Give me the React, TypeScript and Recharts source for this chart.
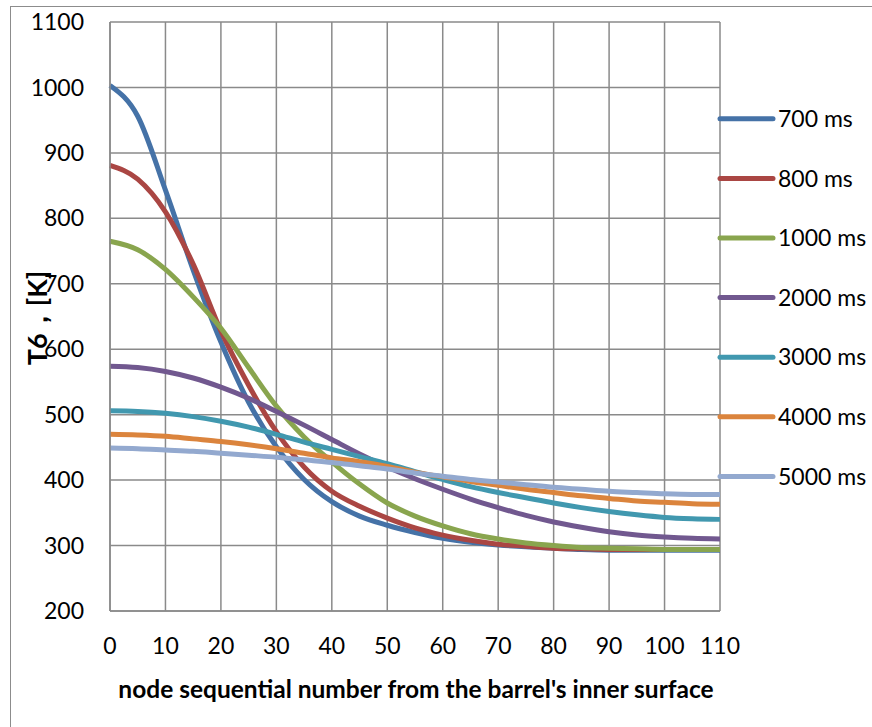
import React from 'react'
import {
  LineChart,
  Line,
  XAxis,
  YAxis,
  CartesianGrid,
  Label,
} from 'recharts'

// node index along the radius
const nodes = [0, 5, 10, 15, 20, 25, 30, 35, 40, 45, 50, 55, 60, 65, 70, 75, 80, 85, 90, 95, 100, 105, 110]

// temperature T6 [K]
const t700 = [1003, 956, 843, 721, 611, 519, 451, 401, 367, 345, 331, 320, 311, 305, 301, 298, 296, 294, 293, 293, 293, 293, 293]
const t800 = [881, 860, 810, 730, 628, 545, 474, 420, 383, 360, 342, 327, 316, 308, 302, 299, 296, 295, 294, 294, 294, 294, 294]
const t1000 = [765, 752, 722, 680, 632, 572, 513, 466, 428, 394, 365, 345, 330, 318, 310, 304, 300, 297, 296, 295, 294, 294, 294]
const t2000 = [574, 572, 566, 556, 542, 525, 505, 484, 462, 440, 420, 402, 386, 371, 358, 346, 336, 328, 321, 316, 313, 311, 310]
const t3000 = [506, 505, 502, 497, 490, 481, 470, 458, 447, 436, 425, 413, 401, 390, 381, 373, 365, 358, 352, 347, 343, 341, 340]
const t4000 = [470, 469, 467, 463, 459, 454, 448, 441, 434, 428, 421, 412, 405, 398, 392, 386, 381, 376, 372, 368, 366, 364, 363]
const t5000 = [449, 448, 446, 444, 441, 438, 435, 431, 427, 422, 417, 411, 406, 401, 397, 393, 389, 386, 383, 381, 379, 378, 378]

const xTicks = [0, 10, 20, 30, 40, 50, 60, 70, 80, 90, 100, 110]
const yTicks = [200, 300, 400, 500, 600, 700, 800, 900, 1000, 1100]

const series = [
  { key: 't700', name: '700 ms', color: '#4572A7', values: t700 },
  { key: 't800', name: '800 ms', color: '#AA4643', values: t800 },
  { key: 't1000', name: '1000 ms', color: '#89A54E', values: t1000 },
  { key: 't2000', name: '2000 ms', color: '#71588F', values: t2000 },
  { key: 't3000', name: '3000 ms', color: '#4198AF', values: t3000 },
  { key: 't4000', name: '4000 ms', color: '#DB843D', values: t4000 },
  { key: 't5000', name: '5000 ms', color: '#93A9CF', values: t5000 },
]

const data = nodes.map((n, i) => {
  const row: Record<string, number> = { node: n }
  series.forEach(s => {
    row[s.key] = s.values[i]
  })
  return row
})

const FONT = 'Lato, "Noto Sans", sans-serif'
const GRID = '#8a8a8a'
const ROW = 59.6

function SeriesLegend() {
  return (
    <svg width={154} height={series.length * ROW}>
      {series.map((s, i) => {
        const cy = ROW / 2 + i * ROW
        return (
          <g key={s.key}>
            <line x1={3} x2={56} y1={cy} y2={cy} stroke={s.color} strokeWidth={5} strokeLinecap="round" />
            <text x={61} y={cy} dy="0.36em" fontSize={23} fontFamily={FONT} fill="#000">
              {s.name}
            </text>
          </g>
        )
      })}
    </svg>
  )
}

export default function App() {
  return (
    <div style={{ position: 'absolute', left: 0, top: 0, width: 872, height: 727, overflow: 'hidden', background: '#fff' }}>
      <div
        style={{
          position: 'absolute',
          left: 10,
          top: 6,
          width: 900,
          height: 800,
          border: '1.5px solid #8c8c8c',
          boxSizing: 'border-box',
        }}
      />
      <div style={{ position: 'absolute', left: 0, top: 0 }}>
        <LineChart width={872} height={727} data={data} margin={{ top: 22, right: 152, left: 0, bottom: 0 }}>
          <CartesianGrid stroke={GRID} strokeWidth={1.5} />
          <XAxis
            dataKey="node"
            type="number"
            domain={[0, 110]}
            ticks={xTicks}
            height={116}
            axisLine={{ stroke: GRID, strokeWidth: 1.5 }}
            tickLine={false}
            tickSize={0}
            tickMargin={27}
            tick={{ fontSize: 23, fill: '#000', fontFamily: FONT }}
          >
            <Label
              content={() => (
                <text x={416} y={698} textAnchor="middle" fontSize={24.5} fontWeight="bold" fontFamily={FONT} fill="#000">
                  node sequential number from the barrel's inner surface
                </text>
              )}
            />
          </XAxis>
          <YAxis
            type="number"
            domain={[200, 1100]}
            ticks={yTicks}
            width={110}
            axisLine={{ stroke: GRID, strokeWidth: 1.5 }}
            tickLine={false}
            tickSize={0}
            tickMargin={26}
            tick={{ fontSize: 23, fill: '#000', fontFamily: FONT }}
          >
            <Label
              content={() => (
                <text
                  x={0}
                  y={0}
                  transform="translate(47, 318) rotate(-90)"
                  textAnchor="middle"
                  fontSize={27}
                  fontWeight="bold"
                  fontFamily={FONT}
                  fill="#000"
                >
                  T6，[K]
                </text>
              )}
            />
          </YAxis>
          {series.map(s => (
            <Line
              key={s.key}
              type="monotone"
              dataKey={s.key}
              name={s.name}
              stroke={s.color}
              strokeWidth={5}
              dot={false}
              isAnimationActive={false}
            />
          ))}
        </LineChart>
      </div>
      <div style={{ position: 'absolute', left: 717, top: 89 }}>
        <SeriesLegend />
      </div>
    </div>
  )
}
